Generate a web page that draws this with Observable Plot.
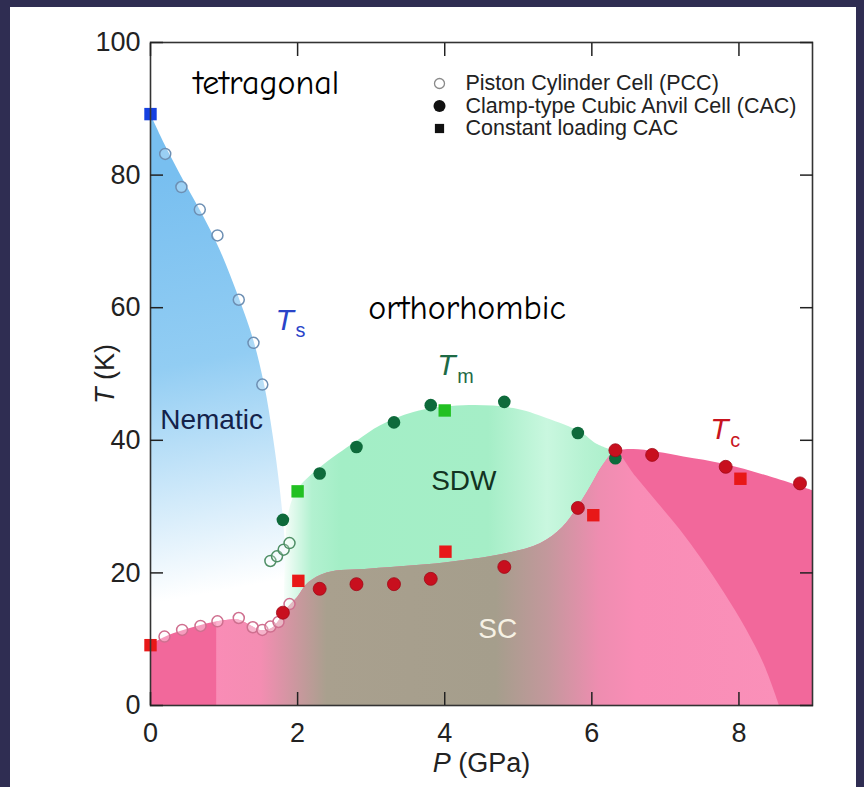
<!DOCTYPE html>
<html><head><meta charset="utf-8">
<script src="https://cdn.jsdelivr.net/npm/d3@7"></script>
<script src="https://cdn.jsdelivr.net/npm/@observablehq/plot@0.6"></script>
<style>
html,body{margin:0;padding:0;background:#2f2d52;width:864px;height:787px;overflow:hidden}
#panel{position:absolute;left:10px;top:7px;width:846px;height:780px;background:#fff}
#panel svg{position:absolute;left:0;top:0;overflow:visible}
</style></head><body><div id="panel"></div>
<script>
// ---------------- DATA (P in GPa, T in K) ----------------
const xTicks = [0, 2, 4, 6, 8];
const yTicks = [0, 20, 40, 60, 80, 100];
const xLabel = "P (GPa)";
const yLabel = "T (K)";

// phase boundaries
const tsBoundary = [[0,89.2],[0.2,84.5],[0.45,79.2],[0.7,74.2],[0.95,68.6],[1.2,61.6],[1.4,55.2],[1.55,48.4],[1.67,40.5],[1.76,33],[1.83,25],[1.88,14]];
const tmBoundary = [[1.82,14],[1.84,24],[1.88,29],[2.0,32.5],[2.3,35.8],[2.8,39.8],[3.13,42.2],[3.58,44.2],[4.26,45.2],[4.94,44.8],[5.39,43.3],[5.85,41.2],[6.07,39.4],[6.32,38.3]];
const tcBoundary = [[0,9.1],[0.2,10.3],[0.45,11.3],[0.7,12.1],[0.95,12.7],[1.2,12.9],[1.35,12.1],[1.5,11.3],[1.65,11.6],[1.75,12.8],[1.85,14.5],[2.0,16.3],[2.15,18.5],[2.4,20.0],[3.0,20.6],[4.0,21.5],[4.8,22.8],[5.3,24.4],[5.6,26.8],[5.8,29.7],[5.98,32.9],[6.16,36.3],[6.32,38.2],[6.57,38.6],[7.25,37.5],[7.8,36.4],[8.39,34.6],[9.0,32.4]];
const scInnerLeft = [[0.9,12.6]];
const scInnerRight = [[6.6,34.5],[6.9,30.5],[7.2,26.5],[7.5,22],[7.8,17],[8.1,11.5],[8.35,6],[8.55,0]];

// measured points
const pccTs = [[0.2,83.2],[0.42,78.2],[0.67,74.8],[0.91,70.9],[1.2,61.2],[1.4,54.7],[1.52,48.4]];
const pccTm = [[1.63,21.8],[1.72,22.5],[1.81,23.5],[1.89,24.5]];
const pccTc = [[0.19,10.4],[0.43,11.4],[0.68,12.0],[0.91,12.7],[1.2,13.2],[1.39,11.8],[1.52,11.4],[1.63,11.9],[1.74,12.6],[1.89,15.3]];
const cacTm = [[1.8,28.0],[2.3,35.0],[2.8,39.0],[3.31,42.7],[3.81,45.3],[4.81,45.8],[5.81,41.1],[6.32,37.3]];
const cacTc = [[1.8,14.0],[2.3,17.6],[2.8,18.3],[3.31,18.3],[3.81,19.1],[4.81,20.9],[5.81,29.8],[6.32,38.5],[6.82,37.8],[7.82,36.0],[8.83,33.5]];
const clTs = [[0,89.2]];
const clTm = [[2.0,32.3],[4.0,44.5]];
const clTc = [[0,9.1],[2.01,18.8],[4.01,23.2],[6.02,28.7],[8.02,34.2]];

const legendItems = ["Piston Cylinder Cell (PCC)", "Clamp-type Cubic Anvil Cell (CAC)", "Constant loading CAC"];

// region / curve labels: [P, T, text]
const phaseLabels = [[0.585,93.8,"tetragonal"],[2.96,59.9,"orthorhombic"]];
const regionLabels = [[0.83,43.1,"Nematic"],[4.26,33.8,"SDW"]];
const scLabel = [[4.72,11.6,"SC"]];
const curveLabels = [[1.70,58.1,"T_s","#2a44c8"],[3.90,51.3,"T_m","#1d6a45"],[7.61,41.6,"T_c","#c8141e"]];

// ---------------- STYLE ----------------
const sans = "'Liberation Sans', Arial, Helvetica, sans-serif";
const comic = "'Comic Sans MS', 'Comic Neue', 'DejaVu Sans', sans-serif";
const gradients = {
  nematicGrad: {from: [0.3, 80], to: [1.35, 18], stops: [[0, "#78bff0"], [0.45, "#92cdf3"], [1, "#ffffff"]]},
  sdwGrad: {axis: [1.78, 6.4], stops: [[1.78, "#ffffff"], [2.2, "#b2f1d0"], [2.6, "#a3eec6"], [4.6, "#a5eec7"], [5.4, "#c9f7df"], [5.9, "#b6f2d2"], [6.4, "#a9efc9"]]},
  scGrad: {axis: [0.9, 8.6], stops: [[0.9, "#f98cb6"], [1.5, "#f48db2"], [2.4, "#a9a08e"], [4.7, "#a59e8c"], [5.4, "#c3989c"], [6.1, "#ee8db0"], [6.6, "#f98db6"], [8.6, "#fa90b9"]]}
};

function defsMark(index, scales) {
  const {x, y} = scales;
  const defs = d3.create("svg:defs");
  for (const [id, g] of Object.entries(gradients)) {
    const lg = defs.append("linearGradient").attr("id", id).attr("gradientUnits", "userSpaceOnUse");
    if (g.axis) {
      const [p0, p1] = g.axis;
      lg.attr("x1", x(p0)).attr("x2", x(p1)).attr("y1", 0).attr("y2", 0);
      for (const [p, c] of g.stops) lg.append("stop").attr("offset", (p - p0) / (p1 - p0)).attr("stop-color", c);
    } else {
      lg.attr("x1", x(g.from[0])).attr("y1", y(g.from[1])).attr("x2", x(g.to[0])).attr("y2", y(g.to[1]));
      for (const [o, c] of g.stops) lg.append("stop").attr("offset", o).attr("stop-color", c);
    }
  }
  return defs.node();
}

const P = d => d[0], T = d => d[1];
const scInner = [...scInnerLeft, ...tcBoundary.filter(d => d[0] > 0.9 && d[0] <= 6.32), ...scInnerRight];

const legendSymbols = [
  {symbol: "circle", fill: "white", stroke: "#8a8a8a", r: 5, strokeWidth: 1.3},
  {symbol: "circle", fill: "#111", stroke: "none", r: 6},
  {symbol: "square", fill: "#111", stroke: "none", r: 5.2}
];
const legendMarks = legendItems.flatMap((txt, i) => [
  Plot.dot([txt], {frameAnchor: "top-left", dx: 289, dy: 41 + i * 22.5, ...legendSymbols[i]}),
  Plot.text([txt], {frameAnchor: "top-left", text: d => d, dx: 315, dy: 41 + i * 22.5, textAnchor: "start", lineAnchor: "middle", fontSize: 21.5, fill: "#222", fontFamily: sans})
]);

const plot = Plot.plot({
  width: 846, height: 780,
  marginLeft: 140, marginRight: 44, marginTop: 35, marginBottom: 82,
  x: {domain: [0, 9]},
  y: {domain: [0, 100]},
  style: {background: "transparent", fontFamily: sans, color: "#222"},
  marks: [
    defsMark,
    Plot.areaY(tsBoundary, {x: P, y: T, fill: "url(#nematicGrad)", curve: "catmull-rom"}),
    Plot.areaY(tmBoundary, {x: P, y: T, fill: "url(#sdwGrad)", curve: "catmull-rom"}),
    Plot.areaY(tcBoundary, {x: P, y: T, fill: "#f2689b", curve: "catmull-rom"}),
    Plot.areaY(scInner, {x: P, y: T, fill: "url(#scGrad)", curve: "catmull-rom"}),
    // labels
    Plot.text(phaseLabels, {x: P, y: T, text: d => d[2], textAnchor: "start", fontSize: 34, fontFamily: comic, fill: "#000"}),
    Plot.text(regionLabels, {x: P, y: T, text: d => d[2], fontSize: 28, fill: d => d[2] === "SDW" ? "#123322" : "#14224a"}),
    Plot.text(scLabel, {x: P, y: T, text: d => d[2], fontSize: 28, fill: "#f6f1e4"}),
    Plot.text(curveLabels, {x: P, y: T, text: d => d[2], textAnchor: "start", fontSize: 30, fill: d => d[3]}),
    // points
    Plot.dot(pccTs, {x: P, y: T, r: 5.5, stroke: "#6d8fb3", strokeWidth: 1.5, fill: "white", fillOpacity: 0.25}),
    Plot.dot(pccTm, {x: P, y: T, r: 5.5, stroke: "#4f8f66", strokeWidth: 1.5, fill: "white", fillOpacity: 0.25}),
    Plot.dot(pccTc, {x: P, y: T, r: 5.5, stroke: "#cf6f8f", strokeWidth: 1.5, fill: "white", fillOpacity: 0.35}),
    Plot.dot(cacTm, {x: P, y: T, r: 6.3, fill: "#0e6a3b"}),
    Plot.dot(cacTc, {x: P, y: T, r: 6.5, fill: "#c80f1e", stroke: "#a00a18", strokeWidth: 0.8}),
    Plot.dot(clTs, {x: P, y: T, r: 7, symbol: "square", fill: "#1540e0"}),
    Plot.dot(clTm, {x: P, y: T, r: 7, symbol: "square", fill: "#22c022"}),
    Plot.dot(clTc, {x: P, y: T, r: 7, symbol: "square", fill: "#e81818"}),
    // frame and axes
    Plot.frame({stroke: "#333", strokeWidth: 1.6}),
    Plot.axisX({anchor: "bottom", ticks: xTicks, tickSize: -13, tickPadding: 30, fontSize: 27, strokeWidth: 1.5, label: null}),
    Plot.axisX({anchor: "top", ticks: xTicks, tickSize: -13, fill: "none", strokeWidth: 1.5, label: null}),
    Plot.axisY({anchor: "left", ticks: yTicks, tickSize: -13, tickPadding: 23, fontSize: 27, strokeWidth: 1.5, label: null}),
    Plot.axisY({anchor: "right", ticks: yTicks, tickSize: -13, fill: "none", strokeWidth: 1.5, label: null}),
    Plot.text([xLabel], {frameAnchor: "bottom", text: d => d, dy: 58, textAnchor: "middle", lineAnchor: "middle", fontSize: 27, fill: "#222"}),
    Plot.text([yLabel], {frameAnchor: "left", text: d => d, dx: -45, rotate: -90, textAnchor: "middle", lineAnchor: "middle", fontSize: 27, fill: "#222"}),
    ...legendMarks
  ]
});

// italic symbols and subscripts
d3.select(plot).selectAll("text").each(function () {
  const s = this.textContent;
  const el = d3.select(this);
  if (/^T_/.test(s)) {
    el.text(null);
    el.append("tspan").attr("font-style", "italic").text("T");
    el.append("tspan").attr("font-size", "0.66em").attr("dy", "0.38em").attr("dx", "0.08em").text(s.slice(2));
  } else if (s === xLabel || s === yLabel) {
    el.text(null);
    el.append("tspan").attr("font-style", "italic").text(s[0]);
    el.append("tspan").text(s.slice(1));
  }
});

document.getElementById("panel").appendChild(plot);
</script>
</body></html>
